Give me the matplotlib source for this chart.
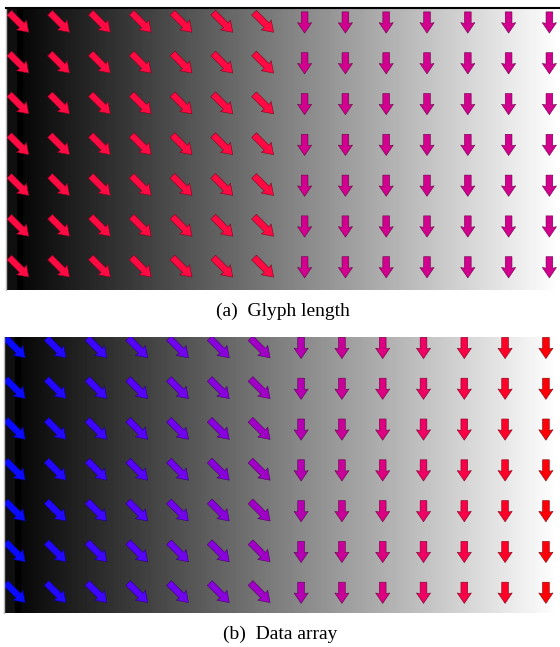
import numpy as np
import matplotlib.pyplot as plt
from matplotlib.colors import to_rgb

# grid of glyphs: 14 columns x 7 rows
n_cols = 14
n_rows = 7

# direction per column (u right, v down)
u_dir = [0.48] * 7 + [0.0] * 7
v_dir = [0.48] * 7 + [0.52] * 7

# (a) colours: one per column
colors_a = ["#ff0a42"] * 7 + ["#d2008e"] * 7
# (b) colours from the data array, blue -> red
colors_b = ["#0a0aff", "#2208ff", "#3c06ff", "#5604f8", "#7004ec", "#8802dc", "#a000c6",
            "#b400b0", "#c80098", "#dc0080", "#ee0064", "#fa0046", "#ff0028", "#ff0008"]

captions = ["(a)  Glyph length", "(b)  Data array"]

fig = plt.figure(figsize=(5.6, 6.47), dpi=100)

W, H = 560, 647
# axes boxes in pixels: left, top, width, height
boxes = [(6, 8, 554, 282), (4, 337, 554, 276)]
# offset of first glyph centre from top-left corner, pixels
offsets = [(13, 14.5), (11.5, 11)]
cell = 40.8


def background(width):
    g = np.zeros(width)
    g[:11] = 0.06
    g[11:17] = 0.0
    g[17:] = np.linspace(0.03, 1.0, width - 17)
    return g[None, :]


def darker(c, f=0.5):
    r, g, b = to_rgb(c)
    return (r * f, g * f, b * f)


for k, (box, off) in enumerate(zip(boxes, offsets)):
    l, t, w, h = box
    ax = fig.add_axes([l / W, 1 - (t + h) / H, w / W, h / H])
    x0 = -off[0] / cell
    x1 = (w - off[0]) / cell
    y0 = -off[1] / cell
    y1 = (h - off[1]) / cell
    ax.imshow(background(w), cmap="gray", vmin=0, vmax=1, aspect="auto",
              extent=(x0, x1, y1, y0), interpolation="nearest", zorder=0)
    ax.set_xlim(x0, x1)
    ax.set_ylim(y1, y0)

    cols = colors_a if k == 0 else colors_b
    X, Y = np.meshgrid(np.arange(n_cols), np.arange(n_rows))
    U = np.tile(u_dir, (n_rows, 1))
    V = np.tile(v_dir, (n_rows, 1))
    C = [cols[i] for i in X.ravel()]
    E = [darker(cols[i]) for i in X.ravel()]
    ax.quiver(X, Y, U, V, color=C, units="xy", angles="xy", scale_units="xy",
              scale=1, width=0.165, headwidth=2.1, headlength=1.55,
              headaxislength=1.45, pivot="middle", edgecolor=E,
              linewidth=0.4, zorder=2)

    ax.set_xticks([])
    ax.set_yticks([])
    for s in ax.spines.values():
        s.set_visible(False)
    ax.spines["left"].set_visible(True)
    ax.spines["left"].set_color("#bbbbbb")
    ax.spines["left"].set_linewidth(1)
    if k == 0:
        ax.spines["top"].set_visible(True)
        ax.spines["top"].set_color("black")
        ax.spines["top"].set_linewidth(1.5)

fig.text(283 / W, 1 - 311 / H, captions[0], ha="center", va="center",
         family="Liberation Serif", fontsize=14)
fig.text(280 / W, 1 - 634 / H, captions[1], ha="center", va="center",
         family="Liberation Serif", fontsize=14)

fig.savefig("out.png", dpi=100)
